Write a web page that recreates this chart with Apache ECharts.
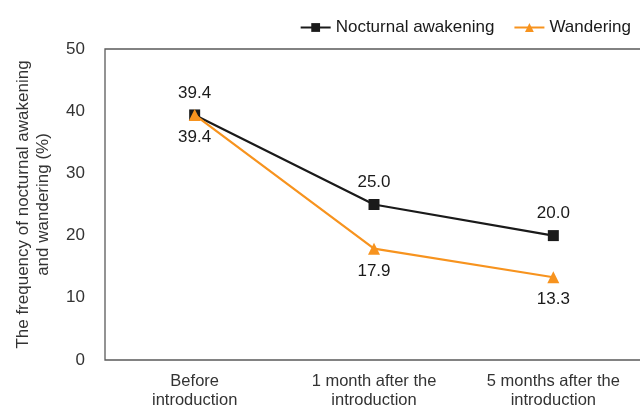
<!DOCTYPE html>
<html>
<head>
<meta charset="utf-8">
<script src="https://cdn.jsdelivr.net/npm/echarts@6/dist/echarts.min.js"></script>
<style>html,body{margin:0;padding:0;background:#fff}#c{width:640px;height:406px}</style>
</head>
<body>
<div id="c"></div>
<script>
const categories = ['Before\nintroduction', '1 month after the\nintroduction', '5 months after the\nintroduction'];
const nocturnal = [39.4, 25.0, 20.0];
const wandering = [39.4, 17.9, 13.3];
const yTicks = { min: 0, max: 50, interval: 10 };

const font = 'Liberation Sans, Arial, sans-serif';
const chart = echarts.init(document.getElementById('c'), null, { renderer: 'canvas' });
chart.setOption({
  animation: false,
  backgroundColor: '#fff',
  textStyle: { fontFamily: font },
  legend: {
    right: 4, top: 14,
    itemWidth: 30, itemHeight: 11, itemGap: 19,
    textStyle: { fontSize: 17, color: '#1a1a1a', fontFamily: font },
    data: ['Nocturnal awakening', 'Wandering']
  },
  grid: {
    left: 105, right: -3, top: 49, bottom: 46,
    outerBoundsMode: 'none',
    containLabel: false,
    show: true, borderColor: '#5a5a5a', borderWidth: 1.3
  },
  xAxis: {
    type: 'category',
    data: categories,
    boundaryGap: true,
    axisLine: { show: false },
    axisTick: { show: false },
    axisLabel: { fontSize: 16.5, color: '#333', lineHeight: 19, margin: 12, fontFamily: font }
  },
  yAxis: {
    type: 'value',
    min: yTicks.min, max: yTicks.max, interval: yTicks.interval,
    splitLine: { show: false },
    axisLine: { show: false },
    axisTick: { show: false },
    axisLabel: { fontSize: 17, color: '#333', margin: 20, fontFamily: font },
    name: 'The frequency of nocturnal awakening\nand wandering (%)',
    nameLocation: 'middle',
    nameGap: 52,
    nameRotate: 90,
    nameTextStyle: { fontSize: 17, color: '#333', lineHeight: 20, fontFamily: font }
  },
  series: [
    {
      name: 'Nocturnal awakening',
      type: 'line',
      data: nocturnal,
      symbol: 'rect', symbolSize: 11,
      lineStyle: { color: '#1a1a1a', width: 2.2 },
      itemStyle: { color: '#1a1a1a' },
      label: {
        show: true, position: 'top', distance: 8,
        fontSize: 17, color: '#1a1a1a', fontFamily: font,
        formatter: p => p.value.toFixed(1)
      },
      z: 3
    },
    {
      name: 'Wandering',
      type: 'line',
      data: wandering,
      symbol: 'triangle', symbolSize: 12,
      lineStyle: { color: '#f7931e', width: 2.2 },
      itemStyle: { color: '#f7931e' },
      label: {
        show: true, position: 'bottom', distance: 8,
        fontSize: 17, color: '#1a1a1a', fontFamily: font,
        formatter: p => p.value.toFixed(1)
      },
      z: 4
    }
  ]
});
</script>
</body>
</html>
